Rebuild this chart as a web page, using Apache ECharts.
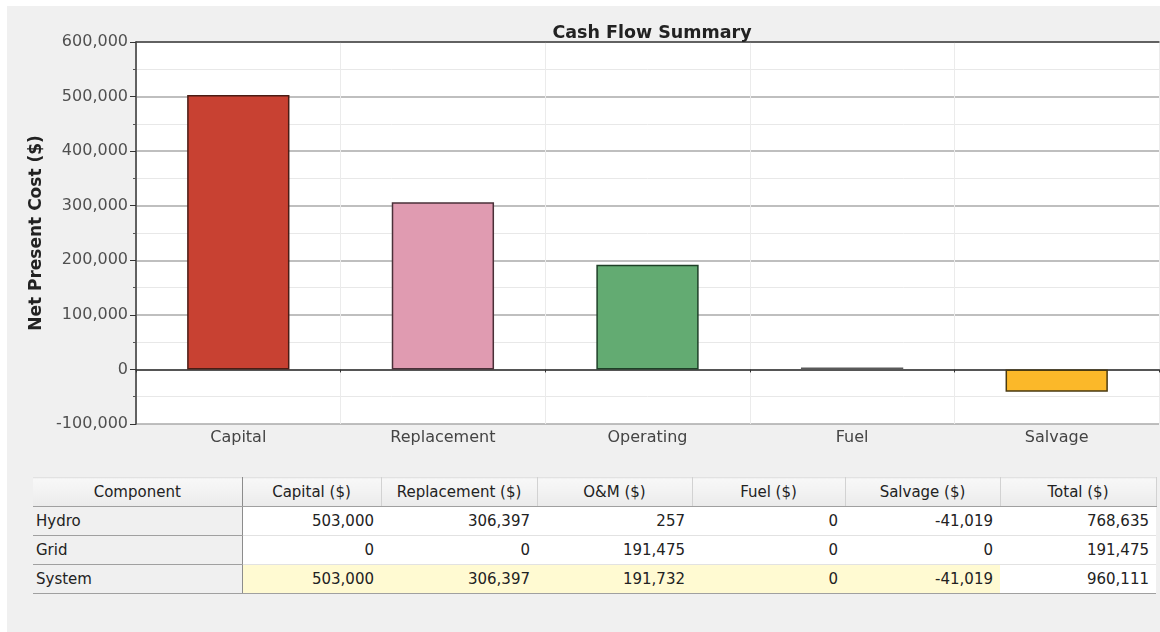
<!DOCTYPE html>
<html>
<head>
<meta charset="utf-8">
<script src="https://cdn.jsdelivr.net/npm/echarts@6/dist/echarts.min.js"></script>
<style>
  body { margin: 0; width: 1160px; height: 632px; overflow: hidden; position: relative; background: #fff; font-family: 'DejaVu Sans', sans-serif; }
  .panel-bg { position: absolute; left: 7px; top: 6px; right: 0; bottom: 0; background: #f0f0f0; }
  .chart-container { position: absolute; left: 0; top: 0; width: 1160px; height: 470px; }
  table.summary { position: absolute; left: 33px; top: 477px; border-collapse: collapse; table-layout: fixed; font-size: 15px; color: #222; }
  table.summary th { height: 28px; padding: 0; font-weight: normal; text-align: center; background: linear-gradient(#f8f8f8, #ebebeb); border-right: 1px solid #d2d2d2; border-bottom: 1px solid #a0a0a0; border-top: 1px solid #e2e2e2; }
  table.summary th:first-child { border-right: 1px solid #8c8c8c; }
  table.summary td { height: 28px; padding: 0 7px 0 0; text-align: right; background: #fff; border-bottom: 1px solid #e2e2e2; white-space: nowrap; }
  table.summary td.name { text-align: left; padding: 0 0 0 3px; background: #f0f0f0; border-bottom: 1px solid #a0a0a0; border-right: 1px solid #8c8c8c; }
  table.summary tr.total td { background: #fffad2; border-bottom: 1px solid #a0a0a0; }
  table.summary tr.total td.name { background: #f0f0f0; }
  table.summary tr.total td:last-child { background: #fff; }
</style>
</head>
<body>
<div class="panel-bg"></div>
<div id="chart" class="chart-container"></div>
<table id="summary" class="summary"></table>

<script>
// chart data
const categories = ['Capital', 'Replacement', 'Operating', 'Fuel', 'Salvage']
const npcValues = [503000, 306397, 191732, 0, -41019]

// table data
const tableHeaders = ['Component', 'Capital ($)', 'Replacement ($)', 'O&M ($)', 'Fuel ($)', 'Salvage ($)', 'Total ($)']
const componentNames = ['Hydro', 'Grid', 'System']
const hydroRow = [503000, 306397, 257, 0, -41019, 768635]
const gridRow = [0, 0, 191475, 0, 0, 191475]
const systemRow = [503000, 306397, 191732, 0, -41019, 960111]

// styles
const barColors = ['#c84132', '#e09bb1', '#63ab72', '#5a5a5a', '#fbb829']
const barBorders = ['#4a1c14', '#4a3038', '#1e4027', '#5a5a5a', '#4a3a10']
const columnWidths = [209, 139, 156, 155, 153, 155, 156]
const font = 'DejaVu Sans'

const fmt = v => v.toLocaleString('en-US')

// 表格
const buildTable = () => {
  const table = document.getElementById('summary')
  let html = '<colgroup>' + columnWidths.map(w => `<col style="width:${w}px">`).join('') + '</colgroup>'
  html += '<tr>' + tableHeaders.map(h => `<th>${h.replace('&', '&amp;')}</th>`).join('') + '</tr>'
  const rows = [hydroRow, gridRow, systemRow]
  rows.forEach((row, i) => {
    const cls = componentNames[i] === 'System' ? ' class="total"' : ''
    html += `<tr${cls}><td class="name">${componentNames[i]}</td>` + row.map(v => `<td>${fmt(v)}</td>`).join('') + '</tr>'
  })
  table.innerHTML = html
}

const chart = echarts.init(document.getElementById('chart'))

const option = {
  animation: false,
  title: {
    text: 'Cash Flow Summary',
    left: 647,
    top: 19,
    textAlign: 'center',
    textStyle: { fontFamily: font, fontWeight: 'bold', fontSize: 17.5, color: '#222' }
  },
  grid: {
    left: 136,
    top: 42,
    width: 1023,
    height: 382,
    show: true,
    backgroundColor: '#fff',
    borderWidth: 0
  },
  xAxis: [
    {
      type: 'category',
      data: categories,
      axisLine: { lineStyle: { color: '#333', width: 1.5 } },
      axisTick: { show: true, length: 3, lineStyle: { color: '#333' } },
      axisLabel: { color: '#444', fontSize: 16, fontFamily: font, margin: 6 },
      splitLine: { show: true, lineStyle: { color: '#ebebeb' } }
    },
    {
      type: 'category',
      position: 'top',
      data: categories,
      axisLine: { lineStyle: { color: '#444', width: 1.5 } },
      axisTick: { show: false },
      axisLabel: { show: false }
    }
  ],
  yAxis: {
    type: 'value',
    min: -100000,
    max: 600000,
    interval: 100000,
    name: 'Net Present Cost ($)',
    nameLocation: 'middle',
    nameGap: 83,
    nameTextStyle: { fontFamily: font, fontWeight: 'bold', fontSize: 17, color: '#222' },
    axisLine: { show: true, lineStyle: { color: '#333', width: 1.5 } },
    axisTick: { show: true, length: 6, lineStyle: { color: '#333' } },
    minorTick: { show: true, splitNumber: 2, length: 3, lineStyle: { color: '#555' } },
    minorSplitLine: { show: true, lineStyle: { color: '#e8e8e8' } },
    splitLine: { lineStyle: { color: '#aaaaaa', width: 1.5 } },
    axisLabel: { formatter: fmt, color: '#505050', fontSize: 16, fontFamily: font, margin: 8 }
  },
  series: [
    {
      type: 'bar',
      barWidth: '50%',
      barMinHeight: 2,
      data: npcValues.map((v, i) => ({
        value: v,
        itemStyle: { color: barColors[i], borderColor: barBorders[i], borderWidth: 1.5 }
      }))
    }
  ]
}

chart.setOption(option)
buildTable()
</script>
</body>
</html>
